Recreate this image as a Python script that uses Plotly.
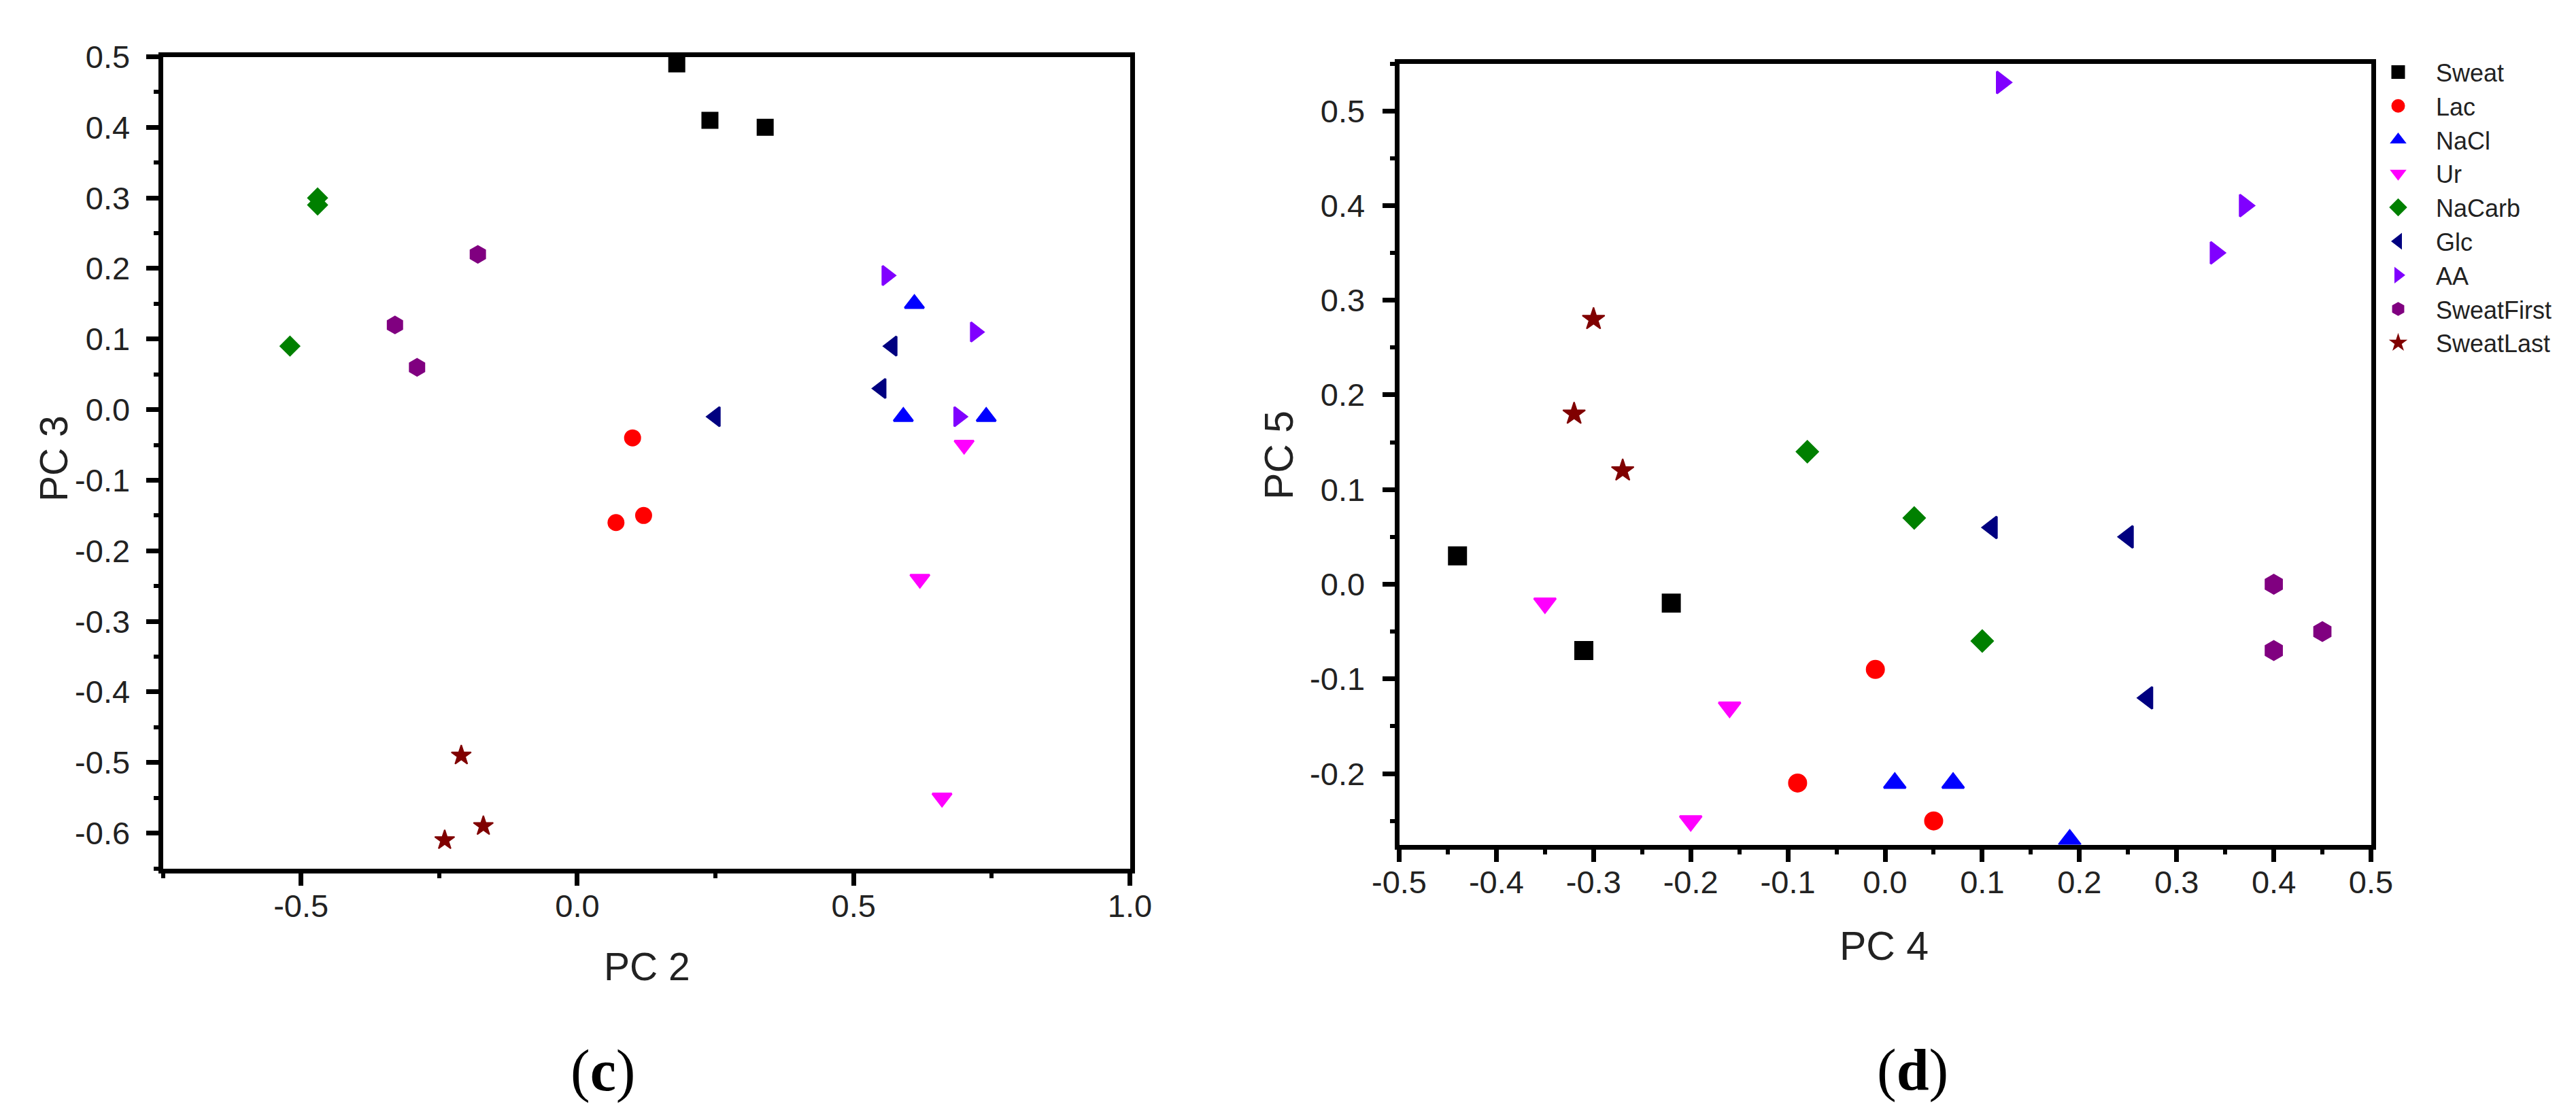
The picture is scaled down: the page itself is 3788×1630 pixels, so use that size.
import plotly.graph_objects as go

W, H = 3788, 1630

series_names = ["Sweat", "Lac", "NaCl", "Ur", "NaCarb", "Glc", "AA", "SweatFirst", "SweatLast"]

# ---- Panel (c): PC 2 (x) vs PC 3 (y) ----
c_sweat_x = [0.18, 0.24, 0.34]
c_sweat_y = [0.49, 0.41, 0.40]
c_lac_x = [0.10, 0.07, 0.12]
c_lac_y = [-0.04, -0.16, -0.15]
c_nacl_x = [0.61, 0.59, 0.74]
c_nacl_y = [0.15, -0.01, -0.01]
c_ur_x = [0.70, 0.62, 0.66]
c_ur_y = [-0.05, -0.24, -0.55]
c_nacarb_x = [-0.47, -0.47, -0.52]
c_nacarb_y = [0.30, 0.29, 0.09]
c_glc_x = [0.25, 0.57, 0.55]
c_glc_y = [-0.01, 0.09, 0.03]
c_aa_x = [0.56, 0.72, 0.69]
c_aa_y = [0.19, 0.11, -0.01]
c_first_x = [-0.18, -0.33, -0.29]
c_first_y = [0.22, 0.12, 0.06]
c_last_x = [-0.21, -0.24, -0.17]
c_last_y = [-0.49, -0.61, -0.59]

# ---- Panel (d): PC 4 (x) vs PC 5 (y) ----
d_sweat_x = [-0.44, -0.31, -0.22]
d_sweat_y = [0.03, -0.07, -0.02]
d_lac_x = [-0.01, -0.09, 0.05]
d_lac_y = [-0.09, -0.21, -0.25]
d_nacl_x = [0.01, 0.07, 0.19]
d_nacl_y = [-0.21, -0.21, -0.27]
d_ur_x = [-0.35, -0.16, -0.20]
d_ur_y = [-0.02, -0.13, -0.25]
d_nacarb_x = [-0.08, 0.03, 0.10]
d_nacarb_y = [0.14, 0.07, -0.06]
d_glc_x = [0.11, 0.25, 0.27]
d_glc_y = [0.06, 0.05, -0.12]
d_aa_x = [0.12, 0.37, 0.34]
d_aa_y = [0.53, 0.40, 0.35]
d_first_x = [0.40, 0.40, 0.45]
d_first_y = [0.00, -0.07, -0.05]
d_last_x = [-0.30, -0.32, -0.27]
d_last_y = [0.28, 0.18, 0.12]

# ---- Tick labels ----
c_xtick_vals = [-0.5, 0.0, 0.5, 1.0]
c_xtick_text = ["-0.5", "0.0", "0.5", "1.0"]
c_ytick_vals = [0.5, 0.4, 0.3, 0.2, 0.1, 0.0, -0.1, -0.2, -0.3, -0.4, -0.5, -0.6]
c_ytick_text = ["0.5", "0.4", "0.3", "0.2", "0.1", "0.0", "-0.1", "-0.2", "-0.3", "-0.4", "-0.5", "-0.6"]
d_xtick_vals = [-0.5, -0.4, -0.3, -0.2, -0.1, 0.0, 0.1, 0.2, 0.3, 0.4, 0.5]
d_xtick_text = ["-0.5", "-0.4", "-0.3", "-0.2", "-0.1", "0.0", "0.1", "0.2", "0.3", "0.4", "0.5"]
d_ytick_vals = [-0.2, -0.1, 0.0, 0.1, 0.2, 0.3, 0.4, 0.5]
d_ytick_text = ["-0.2", "-0.1", "0.0", "0.1", "0.2", "0.3", "0.4", "0.5"]

panel_c = [
    (c_sweat_x, c_sweat_y), (c_lac_x, c_lac_y), (c_nacl_x, c_nacl_y),
    (c_ur_x, c_ur_y), (c_nacarb_x, c_nacarb_y), (c_glc_x, c_glc_y),
    (c_aa_x, c_aa_y), (c_first_x, c_first_y), (c_last_x, c_last_y),
]
panel_d = [
    (d_sweat_x, d_sweat_y), (d_lac_x, d_lac_y), (d_nacl_x, d_nacl_y),
    (d_ur_x, d_ur_y), (d_nacarb_x, d_nacarb_y), (d_glc_x, d_glc_y),
    (d_aa_x, d_aa_y), (d_first_x, d_first_y), (d_last_x, d_last_y),
]

# ---- Styles ----
colors = ["#000000", "#FF0000", "#0000FF", "#FF00FF", "#008000",
          "#000080", "#8000FF", "#800080", "#800000"]
symbols = ["square", "circle", "triangle-up", "triangle-down", "diamond",
           "triangle-left", "triangle-right", "hexagon", "star"]
size_mult = [1.0, 1.0, 1.1, 1.1, 0.95, 1.1, 1.1, 1.08, 0.95]
outline = [4, 4, 3, 3, 4, 3, 3, 4, 2]
base_c, base_d = 25, 28

fig = go.Figure()
for i, name in enumerate(series_names):
    x, y = panel_c[i]
    fig.add_trace(go.Scatter(
        x=x, y=y, mode="markers", name=name, legendgroup=name, showlegend=False,
        marker=dict(symbol=symbols[i], color=colors[i],
                    size=base_c * size_mult[i] - outline[i],
                    line=dict(width=outline[i], color=colors[i])),
        xaxis="x", yaxis="y"))
for i, name in enumerate(series_names):
    x, y = panel_d[i]
    fig.add_trace(go.Scatter(
        x=x, y=y, mode="markers", name=name, legendgroup=name, showlegend=True,
        marker=dict(symbol=symbols[i], color=colors[i],
                    size=base_d * size_mult[i] - outline[i],
                    line=dict(width=outline[i], color=colors[i])),
        xaxis="x2", yaxis="y2"))


def px_x(p):
    return p / W


def px_y(p):
    return 1 - p / H


LW = 7
half = LW / 2
TICKFONT = dict(family="Liberation Sans, Arial, sans-serif", size=47, color="#222222")


def axis_common(vals, text, minor_dtick):
    return dict(
        showline=True, linecolor="black", linewidth=LW, mirror=True,
        showgrid=False, zeroline=False,
        ticks="outside", ticklen=18, tickwidth=7, tickcolor="black",
        tickmode="array", tickvals=vals, ticktext=text,
        tickfont=TICKFONT, automargin=False,
        minor=dict(ticks="outside", ticklen=7, tickwidth=6, tickcolor="black",
                   tickmode="linear", tick0=0, dtick=minor_dtick, showgrid=False),
    )


# Panel (c) frame (line centers): left 228, right 1657, top 72, bottom 1273
xa = axis_common(c_xtick_vals, c_xtick_text, 0.25)
xa.update(domain=[px_x(228 + half), px_x(1657 - half)], range=[-0.75, 1.0],
          anchor="y", ticklabelstandoff=-10)
ya = axis_common(c_ytick_vals, c_ytick_text, 0.05)
ya.update(domain=[px_y(1273 - half), px_y(72 + half)], range=[-0.65, 0.5],
          anchor="x", ticklabelstandoff=14)

# Panel (d) frame: left 2046, right 3482, top 82, bottom 1238
xa2 = axis_common(d_xtick_vals, d_xtick_text, 0.05)
xa2.update(domain=[px_x(2046 + half), px_x(3482 - half)], range=[-0.5, 0.5],
           anchor="y2", ticklabelstandoff=-10)
ya2 = axis_common(d_ytick_vals, d_ytick_text, 0.05)
ya2.update(domain=[px_y(1238 - half), px_y(82 + half)], range=[-0.275, 0.55],
           anchor="x2", ticklabelstandoff=16)

TITLEFONT_C = dict(family="Liberation Sans, Arial, sans-serif", size=57, color="#222222")
TITLEFONT_D = dict(family="Liberation Sans, Arial, sans-serif", size=59, color="#222222")
LABELFONT = dict(family="Liberation Serif, Times New Roman, serif", size=86, color="black")

annotations = [
    dict(text="PC 2", x=px_x(943), y=px_y(1414), font=TITLEFONT_C),
    dict(text="PC 3", x=px_x(71), y=px_y(667), font=TITLEFONT_C, textangle=-90),
    dict(text="PC 4", x=px_x(2762), y=px_y(1384), font=TITLEFONT_D),
    dict(text="PC 5", x=px_x(1873), y=px_y(662), font=TITLEFONT_D, textangle=-90),
    dict(text="(<b>c</b>)", x=px_x(878), y=px_y(1567), font=LABELFONT),
    dict(text="(<b>d</b>)", x=px_x(2804), y=px_y(1566), font=LABELFONT),
]
for a in annotations:
    a.update(xref="paper", yref="paper", showarrow=False, xanchor="center", yanchor="middle")

fig.update_layout(
    width=W, height=H, autosize=False,
    margin=dict(l=0, r=0, t=0, b=0, pad=0, autoexpand=False),
    paper_bgcolor="white", plot_bgcolor="white",
    xaxis=xa, yaxis=ya, xaxis2=xa2, yaxis2=ya2,
    annotations=annotations,
    showlegend=True,
    legend=dict(
        x=px_x(3463), y=px_y(68), xanchor="left", yanchor="top",
        bgcolor="rgba(0,0,0,0)", borderwidth=0,
        font=dict(family="Liberation Sans, Arial, sans-serif", size=36, color="#222222"),
        itemwidth=101, tracegroupgap=0, itemsizing="trace",
    ),
)

fig.write_html("out.html")
